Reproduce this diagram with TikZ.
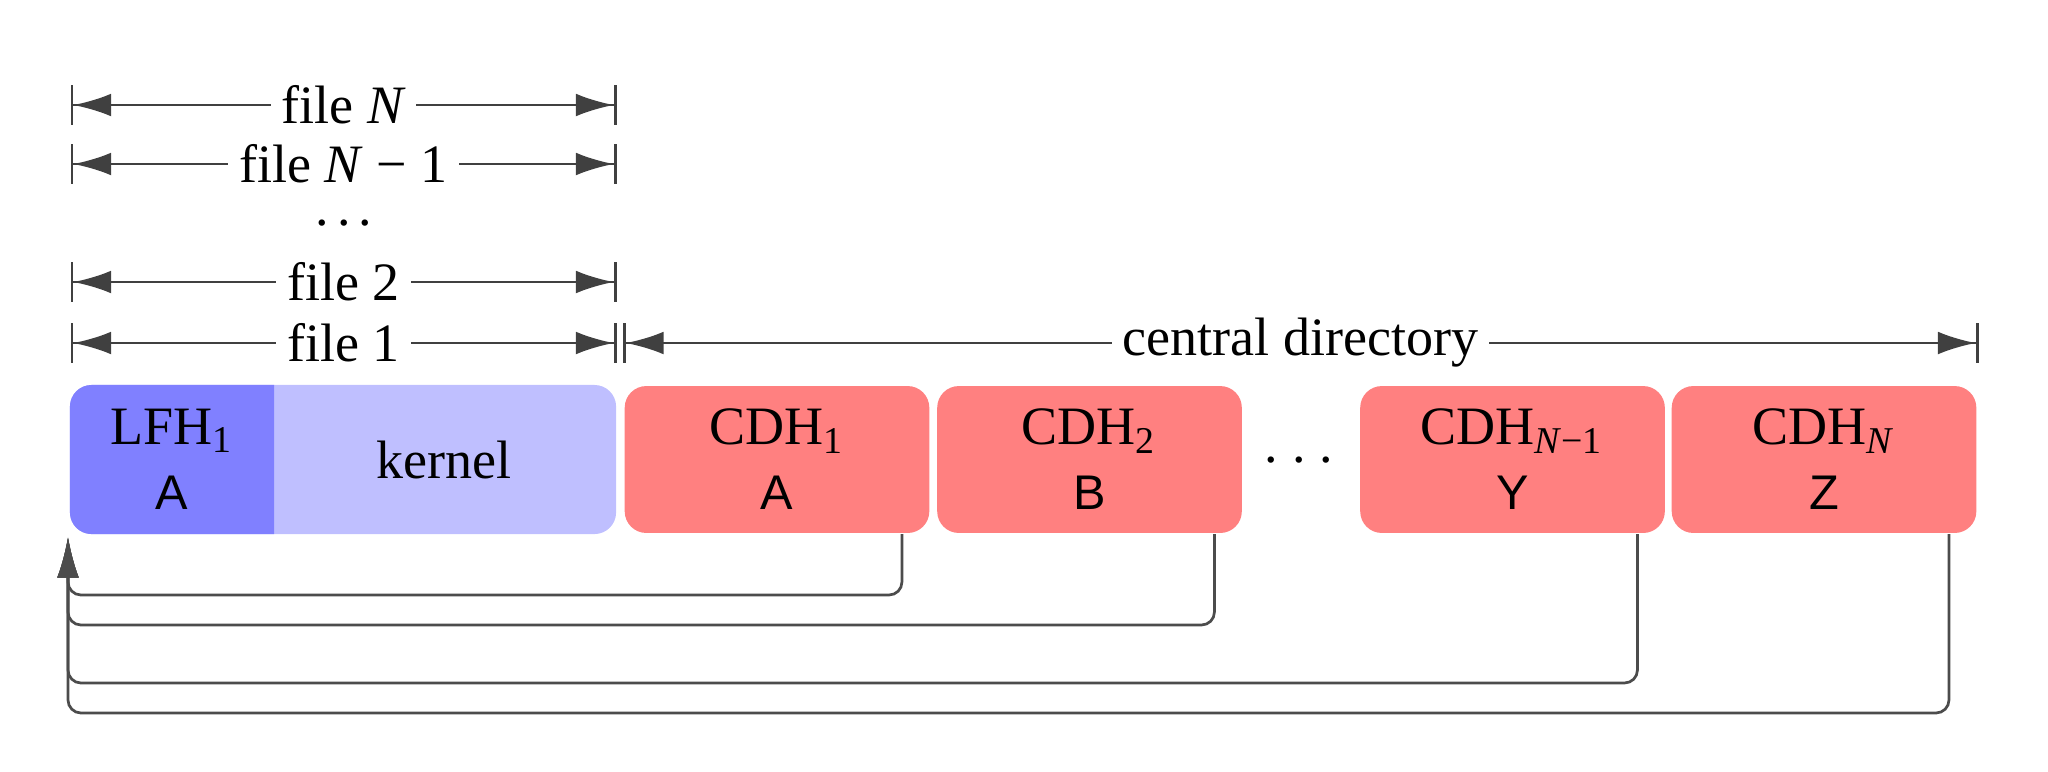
\documentclass[tikz,border=0pt]{standalone}
\usepackage{fontspec}
\setmainfont{Liberation Serif}
\setsansfont{Liberation Sans}
\usetikzlibrary{arrows.meta,backgrounds}

\tikzset{
  dim/.style={draw=black!75, line width=0.5pt,
    {Bar[width=7.3pt]Latex[length=7pt,width=4.2pt]}-{Latex[length=7pt,width=4.2pt]Bar[width=7.3pt]}},
  dimlabel/.style={fill=white, inner xsep=2pt, inner ysep=0.5pt},
  hdr/.style={minimum height=0.955cm, inner sep=0pt, align=center},
  cdh/.style={hdr, rounded corners=4pt, fill=red!50, minimum width=1.98cm},
  back/.style={draw=black!70, line width=0.5pt, rounded corners=2.4pt,
    -{Latex[length=7.5pt,width=4pt]}}
}

\begin{document}
\begin{tikzpicture}[x=0.65cm,y=0.65cm]
  \useasboundingbox (0,0) rectangle (20.48,7.71);

  % local file header + kernel
  \node[hdr, minimum width=1.313cm] (lfh) at (1.72,3.115) {LFH\textsubscript{1}\\\textsf{\small A}};
  \node[hdr, minimum width=2.223cm] (kernel) at (4.44,3.115) {kernel};
  \begin{scope}[on background layer]
    \fill[blue!25, rounded corners=4pt] (lfh.north west) rectangle (kernel.south east);
    \fill[blue!50] (lfh.north east) -- ([xshift=4pt]lfh.north west)
      arc[start angle=90, end angle=180, radius=4pt] -- ([yshift=4pt]lfh.south west)
      arc[start angle=180, end angle=270, radius=4pt] -- (lfh.south east) -- cycle;
  \end{scope}

  % central directory headers
  \node[cdh] (cdh1) at (7.77,3.115) {CDH\textsubscript{1}\\\textsf{\small A}};
  \node[cdh] (cdh2) at (10.895,3.115) {CDH\textsubscript{2}\\\textsf{\small B}};
  \node (hdots) at (12.99,3.11) {.\kern0.26em.\kern0.26em.};
  \node[cdh] (cdhm) at (15.125,3.115) {CDH\textsubscript{\textit{N}−1}\\\textsf{\small Y}};
  \node[cdh] (cdhn) at (18.24,3.115) {CDH\textsubscript{\textit{N}}\\\textsf{\small Z}};

  % file extents
  \foreach \y/\txt [count=\i] in {6.66/file \textit{N}, 6.07/file \textit{N} − 1, 4.89/file 2, 4.28/file 1}
  {
    \coordinate (f\i a) at (0.705,\y);
    \coordinate (f\i b) at (6.165,\y);
    \draw[dim] (f\i a) -- node[dimlabel] (f\i) {\txt} (f\i b);
  }
  \node (vdots) at (3.44,5.48) {.\kern0.15em.\kern0.15em.};

  \coordinate (cda) at (6.23,4.28);
  \coordinate (cdb) at (19.785,4.28);
  \draw[dim] (cda) -- node[dimlabel] (cd) {central directory} (cdb);

  % offsets back to the local headers
  \coordinate (lfhin) at (0.68,2.34);
  \foreach \n/\y in {cdh1/1.76, cdh2/1.46, cdhm/0.88, cdhn/0.58}
    \draw[back] ([xshift=-1.85mm]\n.south east) |- (0.68,\y) -- (lfhin);

\end{tikzpicture}
\end{document}
